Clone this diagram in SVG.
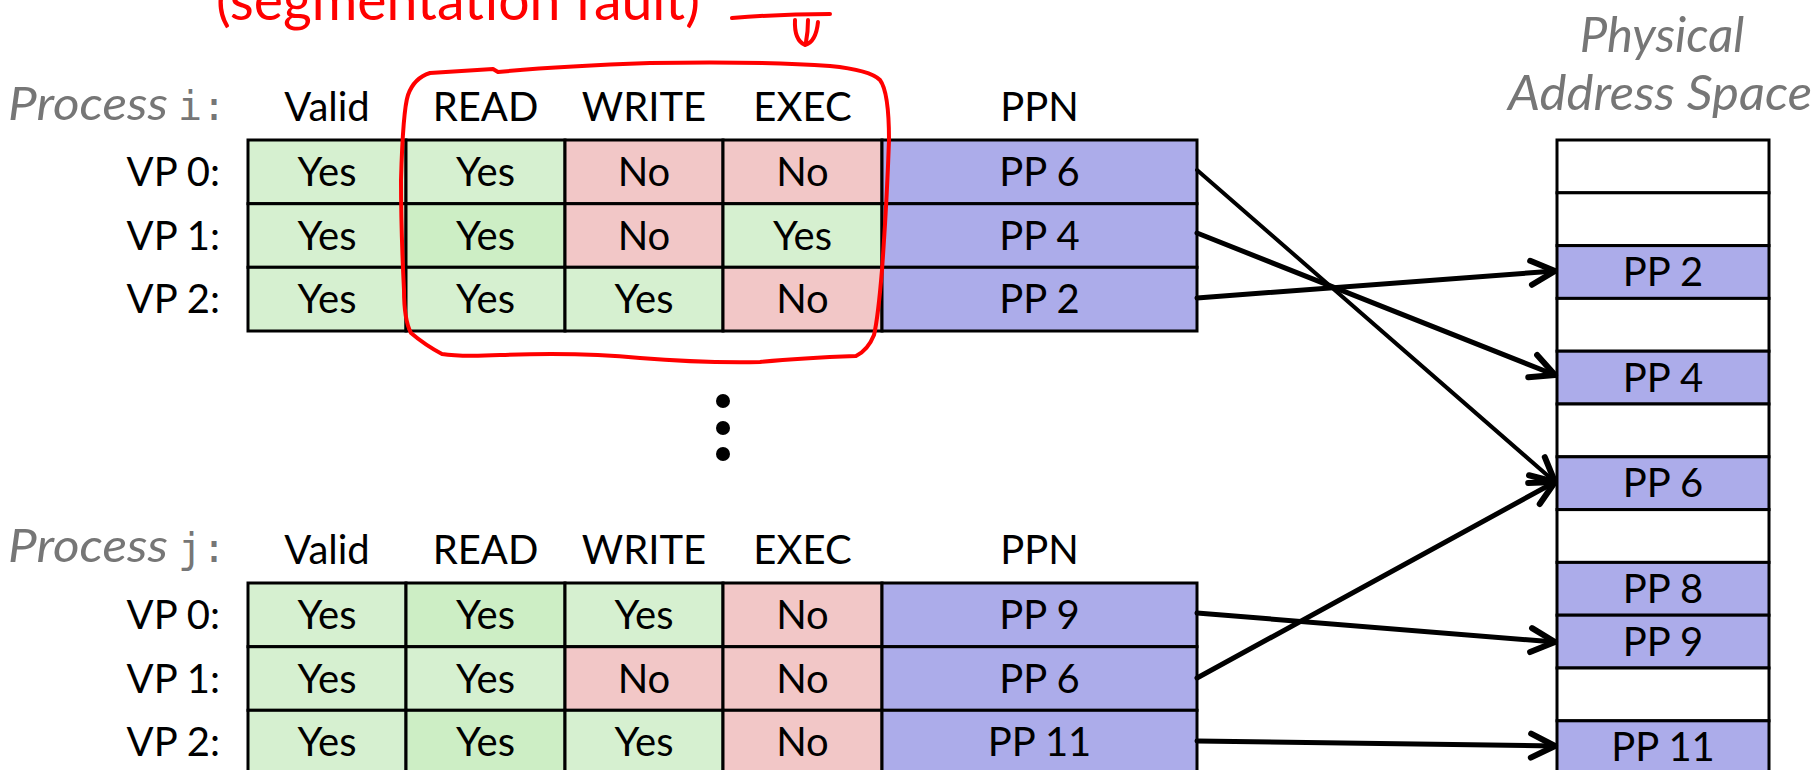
<svg xmlns="http://www.w3.org/2000/svg" width="1819" height="770" viewBox="0 0 1819 770">
  <defs>
    <style>
      .cell { stroke: #000; stroke-width: 3; }
      .g { fill: #d6f0d0; }
      .gg { fill: #cdeec5; }
      .r { fill: #f2c7c7; }
      .b { fill: #acacea; }
      .w { fill: #ffffff; }
      .t { font-family: Lato, "Open Sans", "Liberation Sans", sans-serif; font-size: 40px; fill: #000; text-anchor: middle; }
      .lbl { font-family: Lato, "Open Sans", "Liberation Sans", sans-serif; font-size: 40px; fill: #000; text-anchor: end; }
      .title { font-family: Lato, "Open Sans", "Liberation Sans", sans-serif; font-style: italic; fill: #767676; }
      .mono { font-family: "DejaVu Sans Mono", "Liberation Mono", monospace; font-size: 40px; fill: #767676; }
      .arrow { fill: none; stroke: #000; stroke-width: 5; stroke-linecap: round; }
      .red { fill: none; stroke: #ff0000; stroke-width: 4; stroke-linecap: round; stroke-linejoin: round; }
    </style>
    <marker id="head" markerUnits="userSpaceOnUse" markerWidth="36" markerHeight="36" viewBox="0 0 36 36" refX="31" refY="18" orient="auto">
      <path d="M7,6 L31,18 L7,30" fill="none" stroke="#000" stroke-width="6" stroke-linecap="round" stroke-linejoin="round"/>
    </marker>
  </defs>

  <rect width="1819" height="770" fill="#ffffff"/>

  <!-- page table for process i -->
  <g id="table-i">
    <text class="title" x="8" y="120" font-size="46" textLength="160" lengthAdjust="spacingAndGlyphs">Process</text>
    <text class="mono" x="178" y="120">i:</text>
    <text class="t" x="327" y="121">Valid</text>
    <text class="t" x="485.5" y="121">READ</text>
    <text class="t" x="644" y="121">WRITE</text>
    <text class="t" x="802.5" y="121">EXEC</text>
    <text class="t" x="1039.5" y="121">PPN</text>

    <rect class="cell g" x="248" y="140" width="158" height="63.7"/>
    <rect class="cell g" x="406" y="140" width="159" height="63.7"/>
    <rect class="cell r" x="565" y="140" width="158" height="63.7"/>
    <rect class="cell r" x="723" y="140" width="159" height="63.7"/>
    <rect class="cell b" x="882" y="140" width="315" height="63.7"/>

    <rect class="cell g" x="248" y="203.7" width="158" height="63.6"/>
    <rect class="cell gg" x="406" y="203.7" width="159" height="63.6"/>
    <rect class="cell r" x="565" y="203.7" width="158" height="63.6"/>
    <rect class="cell g" x="723" y="203.7" width="159" height="63.6"/>
    <rect class="cell b" x="882" y="203.7" width="315" height="63.6"/>

    <rect class="cell g" x="248" y="267.3" width="158" height="63.7"/>
    <rect class="cell g" x="406" y="267.3" width="159" height="63.7"/>
    <rect class="cell g" x="565" y="267.3" width="158" height="63.7"/>
    <rect class="cell r" x="723" y="267.3" width="159" height="63.7"/>
    <rect class="cell b" x="882" y="267.3" width="315" height="63.7"/>

    <text class="lbl" x="220" y="186">VP 0:</text>
    <text class="lbl" x="220" y="249.5">VP 1:</text>
    <text class="lbl" x="220" y="313">VP 2:</text>

    <text class="t" x="327" y="186">Yes</text>
    <text class="t" x="485.5" y="186">Yes</text>
    <text class="t" x="644" y="186">No</text>
    <text class="t" x="802.5" y="186">No</text>
    <text class="t" x="1039.5" y="186">PP 6</text>

    <text class="t" x="327" y="249.5">Yes</text>
    <text class="t" x="485.5" y="249.5">Yes</text>
    <text class="t" x="644" y="249.5">No</text>
    <text class="t" x="802.5" y="249.5">Yes</text>
    <text class="t" x="1039.5" y="249.5">PP 4</text>

    <text class="t" x="327" y="313">Yes</text>
    <text class="t" x="485.5" y="313">Yes</text>
    <text class="t" x="644" y="313">Yes</text>
    <text class="t" x="802.5" y="313">No</text>
    <text class="t" x="1039.5" y="313">PP 2</text>
  </g>

  <!-- vertical ellipsis between the tables -->
  <g id="ellipsis" fill="#000">
    <circle cx="723" cy="401" r="7"/>
    <circle cx="723" cy="428" r="7"/>
    <circle cx="723" cy="454" r="7"/>
  </g>

  <!-- page table for process j -->
  <g id="table-j">
    <text class="title" x="8" y="562" font-size="46" textLength="160" lengthAdjust="spacingAndGlyphs">Process</text>
    <text class="mono" x="178" y="562">j:</text>
    <text class="t" x="327" y="564">Valid</text>
    <text class="t" x="485.5" y="564">READ</text>
    <text class="t" x="644" y="564">WRITE</text>
    <text class="t" x="802.5" y="564">EXEC</text>
    <text class="t" x="1039.5" y="564">PPN</text>

    <rect class="cell g" x="248" y="583" width="158" height="63.7"/>
    <rect class="cell gg" x="406" y="583" width="159" height="63.7"/>
    <rect class="cell g" x="565" y="583" width="158" height="63.7"/>
    <rect class="cell r" x="723" y="583" width="159" height="63.7"/>
    <rect class="cell b" x="882" y="583" width="315" height="63.7"/>

    <rect class="cell g" x="248" y="646.7" width="158" height="63.6"/>
    <rect class="cell g" x="406" y="646.7" width="159" height="63.6"/>
    <rect class="cell r" x="565" y="646.7" width="158" height="63.6"/>
    <rect class="cell r" x="723" y="646.7" width="159" height="63.6"/>
    <rect class="cell b" x="882" y="646.7" width="315" height="63.6"/>

    <rect class="cell g" x="248" y="710.3" width="158" height="63.7"/>
    <rect class="cell gg" x="406" y="710.3" width="159" height="63.7"/>
    <rect class="cell g" x="565" y="710.3" width="158" height="63.7"/>
    <rect class="cell r" x="723" y="710.3" width="159" height="63.7"/>
    <rect class="cell b" x="882" y="710.3" width="315" height="63.7"/>

    <text class="lbl" x="220" y="629">VP 0:</text>
    <text class="lbl" x="220" y="692.5">VP 1:</text>
    <text class="lbl" x="220" y="756">VP 2:</text>

    <text class="t" x="327" y="629">Yes</text>
    <text class="t" x="485.5" y="629">Yes</text>
    <text class="t" x="644" y="629">Yes</text>
    <text class="t" x="802.5" y="629">No</text>
    <text class="t" x="1039.5" y="629">PP 9</text>

    <text class="t" x="327" y="692.5">Yes</text>
    <text class="t" x="485.5" y="692.5">Yes</text>
    <text class="t" x="644" y="692.5">No</text>
    <text class="t" x="802.5" y="692.5">No</text>
    <text class="t" x="1039.5" y="692.5">PP 6</text>

    <text class="t" x="327" y="756">Yes</text>
    <text class="t" x="485.5" y="756">Yes</text>
    <text class="t" x="644" y="756">Yes</text>
    <text class="t" x="802.5" y="756">No</text>
    <text class="t" x="1039.5" y="756">PP 11</text>
  </g>

  <!-- physical memory column -->
  <g id="physical-memory">
    <text class="title" x="1662" y="52" font-size="49" text-anchor="middle">Physical</text>
    <text class="title" x="1660" y="110" font-size="49" text-anchor="middle" textLength="304" lengthAdjust="spacingAndGlyphs">Address Space</text>

    <rect class="cell w" x="1557" y="140" width="212" height="52.8"/>
    <rect class="cell w" x="1557" y="192.8" width="212" height="52.8"/>
    <rect class="cell b" x="1557" y="245.6" width="212" height="52.8"/>
    <rect class="cell w" x="1557" y="298.4" width="212" height="52.8"/>
    <rect class="cell b" x="1557" y="351.2" width="212" height="52.8"/>
    <rect class="cell w" x="1557" y="404" width="212" height="52.8"/>
    <rect class="cell b" x="1557" y="456.8" width="212" height="52.8"/>
    <rect class="cell w" x="1557" y="509.6" width="212" height="52.8"/>
    <rect class="cell b" x="1557" y="562.4" width="212" height="52.8"/>
    <rect class="cell b" x="1557" y="615.2" width="212" height="52.8"/>
    <rect class="cell w" x="1557" y="668" width="212" height="52.8"/>
    <rect class="cell b" x="1557" y="720.8" width="212" height="52.8"/>

    <text class="t" x="1663" y="286">PP 2</text>
    <text class="t" x="1663" y="391.5">PP 4</text>
    <text class="t" x="1663" y="497">PP 6</text>
    <text class="t" x="1663" y="603">PP 8</text>
    <text class="t" x="1663" y="656">PP 9</text>
    <text class="t" x="1663" y="761">PP 11</text>
  </g>

  <!-- page table entries pointing at physical pages -->
  <g id="connectors" class="arrow">
    <line x1="1197" y1="170" x2="1555" y2="482" marker-end="url(#head)" stroke-width="4"/>
    <line x1="1197" y1="233" x2="1555" y2="375" marker-end="url(#head)"/>
    <line x1="1197" y1="298" x2="1555" y2="271" marker-end="url(#head)"/>
    <line x1="1197" y1="613" x2="1555" y2="642" marker-end="url(#head)"/>
    <line x1="1197" y1="678" x2="1555" y2="482" marker-end="url(#head)"/>
    <line x1="1197" y1="741" x2="1555" y2="746" marker-end="url(#head)"/>
  </g>

  <!-- red annotation, drawn over the table -->
  <g id="annotation">
    <text x="216" y="20" font-family="Lato, 'Open Sans', sans-serif" font-size="56" fill="#ff0000" textLength="484" lengthAdjust="spacingAndGlyphs">(segmentation fault)</text>
    <path class="red" d="M732,18 Q780,14 830,14"/>
    <path class="red" d="M795,20 Q794,40 805,45 Q816,42 818,22 M808,20 Q808,32 806,42"/>
    <path class="red" d="M430,73 L493,69 L498,72 Q560,66 650,63 Q760,61 830,66 Q870,70 880,80 Q889,92 889,140 Q887,200 882,270 Q878,318 874,335 Q868,350 856,356 Q800,358 760,362 Q700,363 640,358 Q580,352 500,355 Q460,357 442,354 Q425,345 411,333 Q404,320 404,290 Q401,230 401,180 Q403,110 408,95 Q414,78 430,73 Z"/>
  </g>
</svg>
